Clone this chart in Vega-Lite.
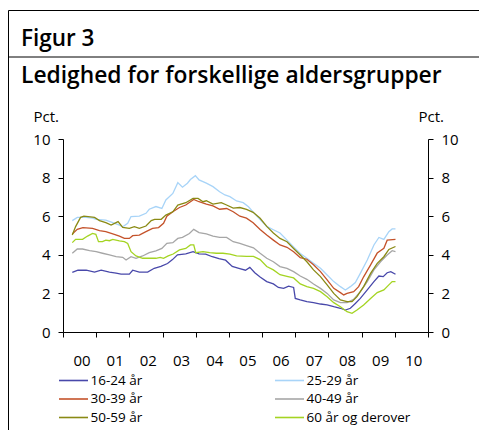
{
"$schema": "https://vega.github.io/schema/vega-lite/v6.json",
"width": 471, "height": 420,
"autosize": {"type": "none"},
"padding": {"left": 8, "top": 10, "right": 0, "bottom": 0},
"background": "#ffffff",
"title": {"text": "Figur 3", "subtitle": "Ledighed for forskellige aldersgrupper", "anchor": "start", "frame": "group", "orient": "top", "offset": -78, "dx": 13, "font": "Open Sans", "fontSize": 22.5, "fontWeight": 600, "color": "#000", "subtitleFont": "Open Sans", "subtitleFontSize": 22.8, "subtitleFontWeight": 600, "subtitleColor": "#000", "subtitlePadding": 15},
"data": {"values": [
{"g":"16-24 år","t":2000.28,"v":3.09},{"g":"16-24 år","t":2000.45,"v":3.2},{"g":"16-24 år","t":2000.7,"v":3.2},{"g":"16-24 år","t":2000.95,"v":3.1},{"g":"16-24 år","t":2001.15,"v":3.2},{"g":"16-24 år","t":2001.4,"v":3.1},{"g":"16-24 år","t":2001.6,"v":3.05},{"g":"16-24 år","t":2001.75,"v":3.0},{"g":"16-24 år","t":2002.0,"v":3.0},{"g":"16-24 år","t":2002.1,"v":3.2},{"g":"16-24 år","t":2002.3,"v":3.1},{"g":"16-24 år","t":2002.55,"v":3.1},{"g":"16-24 år","t":2002.75,"v":3.3},{"g":"16-24 år","t":2002.95,"v":3.4},{"g":"16-24 år","t":2003.15,"v":3.55},{"g":"16-24 år","t":2003.3,"v":3.75},{"g":"16-24 år","t":2003.45,"v":4.0},{"g":"16-24 år","t":2003.7,"v":4.05},{"g":"16-24 år","t":2003.92,"v":4.16},{"g":"16-24 år","t":2004.1,"v":4.05},{"g":"16-24 år","t":2004.3,"v":4.04},{"g":"16-24 år","t":2004.5,"v":3.9},{"g":"16-24 år","t":2004.7,"v":3.8},{"g":"16-24 år","t":2004.9,"v":3.72},{"g":"16-24 år","t":2005.1,"v":3.4},{"g":"16-24 år","t":2005.3,"v":3.3},{"g":"16-24 år","t":2005.5,"v":3.2},{"g":"16-24 år","t":2005.63,"v":3.35},{"g":"16-24 år","t":2005.78,"v":3.07},{"g":"16-24 år","t":2005.94,"v":2.85},{"g":"16-24 år","t":2006.14,"v":2.61},{"g":"16-24 år","t":2006.34,"v":2.49},{"g":"16-24 år","t":2006.49,"v":2.31},{"g":"16-24 år","t":2006.65,"v":2.26},{"g":"16-24 år","t":2006.8,"v":2.38},{"g":"16-24 år","t":2006.95,"v":2.31},{"g":"16-24 år","t":2007.0,"v":1.74},{"g":"16-24 år","t":2007.15,"v":1.66},{"g":"16-24 år","t":2007.35,"v":1.57},{"g":"16-24 år","t":2007.55,"v":1.52},{"g":"16-24 år","t":2007.76,"v":1.45},{"g":"16-24 år","t":2007.96,"v":1.4},{"g":"16-24 år","t":2008.16,"v":1.31},{"g":"16-24 år","t":2008.36,"v":1.23},{"g":"16-24 år","t":2008.51,"v":1.14},{"g":"16-24 år","t":2008.66,"v":1.23},{"g":"16-24 år","t":2008.81,"v":1.48},{"g":"16-24 år","t":2008.96,"v":1.74},{"g":"16-24 år","t":2009.17,"v":2.18},{"g":"16-24 år","t":2009.37,"v":2.61},{"g":"16-24 år","t":2009.52,"v":2.9},{"g":"16-24 år","t":2009.65,"v":2.87},{"g":"16-24 år","t":2009.77,"v":3.07},{"g":"16-24 år","t":2009.88,"v":3.13},{"g":"16-24 år","t":2010.02,"v":2.99},
{"g":"25-29 år","t":2000.28,"v":5.77},{"g":"25-29 år","t":2000.43,"v":5.94},{"g":"25-29 år","t":2000.7,"v":5.94},{"g":"25-29 år","t":2000.89,"v":5.9},{"g":"25-29 år","t":2001.0,"v":5.84},{"g":"25-29 år","t":2001.29,"v":5.8},{"g":"25-29 år","t":2001.5,"v":5.67},{"g":"25-29 år","t":2001.7,"v":5.54},{"g":"25-29 år","t":2001.8,"v":5.45},{"g":"25-29 år","t":2001.95,"v":5.63},{"g":"25-29 år","t":2002.05,"v":5.98},{"g":"25-29 år","t":2002.3,"v":6.0},{"g":"25-29 år","t":2002.5,"v":6.15},{"g":"25-29 år","t":2002.6,"v":6.36},{"g":"25-29 år","t":2002.8,"v":6.5},{"g":"25-29 år","t":2002.98,"v":6.4},{"g":"25-29 år","t":2003.1,"v":6.84},{"g":"25-29 år","t":2003.31,"v":7.18},{"g":"25-29 år","t":2003.46,"v":7.74},{"g":"25-29 år","t":2003.6,"v":7.5},{"g":"25-29 år","t":2003.75,"v":7.71},{"g":"25-29 år","t":2003.84,"v":7.9},{"g":"25-29 år","t":2003.99,"v":8.1},{"g":"25-29 år","t":2004.1,"v":7.88},{"g":"25-29 år","t":2004.32,"v":7.71},{"g":"25-29 år","t":2004.52,"v":7.53},{"g":"25-29 år","t":2004.72,"v":7.27},{"g":"25-29 år","t":2004.88,"v":7.1},{"g":"25-29 år","t":2005.03,"v":7.01},{"g":"25-29 år","t":2005.23,"v":6.79},{"g":"25-29 år","t":2005.43,"v":6.7},{"g":"25-29 år","t":2005.59,"v":6.49},{"g":"25-29 år","t":2005.74,"v":6.2},{"g":"25-29 år","t":2005.94,"v":5.83},{"g":"25-29 år","t":2006.14,"v":5.47},{"g":"25-29 år","t":2006.34,"v":5.3},{"g":"25-29 år","t":2006.54,"v":5.13},{"g":"25-29 år","t":2006.75,"v":4.76},{"g":"25-29 år","t":2006.95,"v":4.41},{"g":"25-29 år","t":2007.15,"v":4.07},{"g":"25-29 år","t":2007.35,"v":3.82},{"g":"25-29 år","t":2007.55,"v":3.56},{"g":"25-29 år","t":2007.76,"v":3.3},{"g":"25-29 år","t":2007.96,"v":2.95},{"g":"25-29 år","t":2008.16,"v":2.61},{"g":"25-29 år","t":2008.36,"v":2.35},{"g":"25-29 år","t":2008.51,"v":2.18},{"g":"25-29 år","t":2008.66,"v":2.35},{"g":"25-29 år","t":2008.81,"v":2.56},{"g":"25-29 år","t":2008.96,"v":3.04},{"g":"25-29 år","t":2009.17,"v":3.73},{"g":"25-29 år","t":2009.37,"v":4.51},{"g":"25-29 år","t":2009.52,"v":4.9},{"g":"25-29 år","t":2009.67,"v":4.8},{"g":"25-29 år","t":2009.82,"v":5.2},{"g":"25-29 år","t":2009.92,"v":5.34},{"g":"25-29 år","t":2010.02,"v":5.34},
{"g":"30-39 år","t":2000.28,"v":5.08},{"g":"30-39 år","t":2000.43,"v":5.32},{"g":"30-39 år","t":2000.6,"v":5.41},{"g":"30-39 år","t":2000.89,"v":5.37},{"g":"30-39 år","t":2001.1,"v":5.25},{"g":"30-39 år","t":2001.29,"v":5.2},{"g":"30-39 år","t":2001.5,"v":5.08},{"g":"30-39 år","t":2001.7,"v":4.97},{"g":"30-39 år","t":2001.85,"v":4.85},{"g":"30-39 år","t":2002.0,"v":4.85},{"g":"30-39 år","t":2002.1,"v":4.99},{"g":"30-39 år","t":2002.3,"v":5.02},{"g":"30-39 år","t":2002.5,"v":5.2},{"g":"30-39 år","t":2002.7,"v":5.37},{"g":"30-39 år","t":2002.88,"v":5.41},{"g":"30-39 år","t":2003.03,"v":5.63},{"g":"30-39 år","t":2003.13,"v":6.0},{"g":"30-39 år","t":2003.31,"v":6.23},{"g":"30-39 år","t":2003.51,"v":6.45},{"g":"30-39 år","t":2003.7,"v":6.58},{"g":"30-39 år","t":2003.94,"v":6.87},{"g":"30-39 år","t":2004.1,"v":6.75},{"g":"30-39 år","t":2004.32,"v":6.63},{"g":"30-39 år","t":2004.52,"v":6.53},{"g":"30-39 år","t":2004.72,"v":6.36},{"g":"30-39 år","t":2004.93,"v":6.4},{"g":"30-39 år","t":2005.13,"v":6.23},{"g":"30-39 år","t":2005.33,"v":6.0},{"g":"30-39 år","t":2005.53,"v":5.9},{"g":"30-39 år","t":2005.73,"v":5.66},{"g":"30-39 år","t":2005.94,"v":5.31},{"g":"30-39 år","t":2006.14,"v":5.02},{"g":"30-39 år","t":2006.34,"v":4.76},{"g":"30-39 år","t":2006.54,"v":4.51},{"g":"30-39 år","t":2006.75,"v":4.39},{"g":"30-39 år","t":2006.95,"v":4.16},{"g":"30-39 år","t":2007.15,"v":3.85},{"g":"30-39 år","t":2007.35,"v":3.77},{"g":"30-39 år","t":2007.55,"v":3.48},{"g":"30-39 år","t":2007.76,"v":3.13},{"g":"30-39 år","t":2007.96,"v":2.7},{"g":"30-39 år","t":2008.16,"v":2.26},{"g":"30-39 år","t":2008.36,"v":2.04},{"g":"30-39 år","t":2008.46,"v":1.92},{"g":"30-39 år","t":2008.56,"v":2.0},{"g":"30-39 år","t":2008.76,"v":2.09},{"g":"30-39 år","t":2008.91,"v":2.35},{"g":"30-39 år","t":2009.06,"v":2.86},{"g":"30-39 år","t":2009.27,"v":3.48},{"g":"30-39 år","t":2009.47,"v":4.09},{"g":"30-39 år","t":2009.67,"v":4.34},{"g":"30-39 år","t":2009.77,"v":4.76},{"g":"30-39 år","t":2010.02,"v":4.8},
{"g":"40-49 år","t":2000.28,"v":4.08},{"g":"40-49 år","t":2000.43,"v":4.3},{"g":"40-49 år","t":2000.59,"v":4.3},{"g":"40-49 år","t":2000.8,"v":4.22},{"g":"40-49 år","t":2001.0,"v":4.16},{"g":"40-49 år","t":2001.19,"v":4.08},{"g":"40-49 år","t":2001.4,"v":3.99},{"g":"40-49 år","t":2001.6,"v":3.9},{"g":"40-49 år","t":2001.8,"v":3.87},{"g":"40-49 år","t":2001.9,"v":3.73},{"g":"40-49 år","t":2002.05,"v":3.9},{"g":"40-49 år","t":2002.2,"v":3.82},{"g":"40-49 år","t":2002.4,"v":3.94},{"g":"40-49 år","t":2002.6,"v":4.11},{"g":"40-49 år","t":2002.8,"v":4.2},{"g":"40-49 år","t":2002.98,"v":4.33},{"g":"40-49 år","t":2003.13,"v":4.59},{"g":"40-49 år","t":2003.31,"v":4.63},{"g":"40-49 år","t":2003.46,"v":4.85},{"g":"40-49 år","t":2003.6,"v":4.9},{"g":"40-49 år","t":2003.81,"v":5.1},{"g":"40-49 år","t":2003.94,"v":5.32},{"g":"40-49 år","t":2004.1,"v":5.15},{"g":"40-49 år","t":2004.32,"v":5.08},{"g":"40-49 år","t":2004.52,"v":4.97},{"g":"40-49 år","t":2004.72,"v":4.9},{"g":"40-49 år","t":2004.93,"v":4.9},{"g":"40-49 år","t":2005.13,"v":4.68},{"g":"40-49 år","t":2005.33,"v":4.59},{"g":"40-49 år","t":2005.53,"v":4.48},{"g":"40-49 år","t":2005.74,"v":4.36},{"g":"40-49 år","t":2005.94,"v":4.08},{"g":"40-49 år","t":2006.14,"v":3.82},{"g":"40-49 år","t":2006.34,"v":3.64},{"g":"40-49 år","t":2006.54,"v":3.39},{"g":"40-49 år","t":2006.75,"v":3.3},{"g":"40-49 år","t":2006.95,"v":3.13},{"g":"40-49 år","t":2007.15,"v":2.9},{"g":"40-49 år","t":2007.35,"v":2.73},{"g":"40-49 år","t":2007.55,"v":2.49},{"g":"40-49 år","t":2007.76,"v":2.26},{"g":"40-49 år","t":2007.96,"v":2.0},{"g":"40-49 år","t":2008.16,"v":1.66},{"g":"40-49 år","t":2008.36,"v":1.52},{"g":"40-49 år","t":2008.56,"v":1.52},{"g":"40-49 år","t":2008.76,"v":1.69},{"g":"40-49 år","t":2008.96,"v":2.09},{"g":"40-49 år","t":2009.17,"v":2.61},{"g":"40-49 år","t":2009.37,"v":3.22},{"g":"40-49 år","t":2009.57,"v":3.64},{"g":"40-49 år","t":2009.77,"v":3.99},{"g":"40-49 år","t":2009.92,"v":4.21},{"g":"40-49 år","t":2010.02,"v":4.16},
{"g":"50-59 år","t":2000.28,"v":5.03},{"g":"50-59 år","t":2000.38,"v":5.46},{"g":"50-59 år","t":2000.53,"v":5.94},{"g":"50-59 år","t":2000.63,"v":6.0},{"g":"50-59 år","t":2000.95,"v":5.94},{"g":"50-59 år","t":2001.1,"v":5.77},{"g":"50-59 år","t":2001.29,"v":5.67},{"g":"50-59 år","t":2001.45,"v":5.54},{"g":"50-59 år","t":2001.6,"v":5.67},{"g":"50-59 år","t":2001.66,"v":5.72},{"g":"50-59 år","t":2001.8,"v":5.42},{"g":"50-59 år","t":2002.0,"v":5.37},{"g":"50-59 år","t":2002.15,"v":5.46},{"g":"50-59 år","t":2002.3,"v":5.37},{"g":"50-59 år","t":2002.5,"v":5.49},{"g":"50-59 år","t":2002.66,"v":5.77},{"g":"50-59 år","t":2002.76,"v":5.84},{"g":"50-59 år","t":2002.96,"v":5.84},{"g":"50-59 år","t":2003.1,"v":6.06},{"g":"50-59 år","t":2003.31,"v":6.23},{"g":"50-59 år","t":2003.46,"v":6.58},{"g":"50-59 år","t":2003.7,"v":6.7},{"g":"50-59 år","t":2003.92,"v":6.92},{"g":"50-59 år","t":2004.07,"v":6.92},{"g":"50-59 år","t":2004.22,"v":6.75},{"g":"50-59 år","t":2004.32,"v":6.8},{"g":"50-59 år","t":2004.52,"v":6.63},{"g":"50-59 år","t":2004.77,"v":6.7},{"g":"50-59 år","t":2004.93,"v":6.58},{"g":"50-59 år","t":2005.13,"v":6.42},{"g":"50-59 år","t":2005.33,"v":6.45},{"g":"50-59 år","t":2005.53,"v":6.35},{"g":"50-59 år","t":2005.73,"v":6.2},{"g":"50-59 år","t":2005.94,"v":5.89},{"g":"50-59 år","t":2006.14,"v":5.47},{"g":"50-59 år","t":2006.34,"v":5.13},{"g":"50-59 år","t":2006.54,"v":4.85},{"g":"50-59 år","t":2006.75,"v":4.68},{"g":"50-59 år","t":2006.95,"v":4.33},{"g":"50-59 år","t":2007.15,"v":3.99},{"g":"50-59 år","t":2007.35,"v":3.64},{"g":"50-59 år","t":2007.55,"v":3.22},{"g":"50-59 år","t":2007.76,"v":2.87},{"g":"50-59 år","t":2007.96,"v":2.44},{"g":"50-59 år","t":2008.16,"v":2.0},{"g":"50-59 år","t":2008.36,"v":1.66},{"g":"50-59 år","t":2008.56,"v":1.57},{"g":"50-59 år","t":2008.71,"v":1.57},{"g":"50-59 år","t":2008.86,"v":1.83},{"g":"50-59 år","t":2009.06,"v":2.35},{"g":"50-59 år","t":2009.27,"v":3.04},{"g":"50-59 år","t":2009.47,"v":3.56},{"g":"50-59 år","t":2009.67,"v":3.9},{"g":"50-59 år","t":2009.82,"v":4.28},{"g":"50-59 år","t":2010.02,"v":4.43},
{"g":"60 år og derover","t":2000.28,"v":4.63},{"g":"60 år og derover","t":2000.38,"v":4.8},{"g":"60 år og derover","t":2000.59,"v":4.8},{"g":"60 år og derover","t":2000.74,"v":4.97},{"g":"60 år og derover","t":2000.89,"v":5.11},{"g":"60 år og derover","t":2000.99,"v":5.06},{"g":"60 år og derover","t":2001.07,"v":4.68},{"g":"60 år og derover","t":2001.19,"v":4.68},{"g":"60 år og derover","t":2001.29,"v":4.76},{"g":"60 år og derover","t":2001.4,"v":4.73},{"g":"60 år og derover","t":2001.5,"v":4.8},{"g":"60 år og derover","t":2001.7,"v":4.72},{"g":"60 år og derover","t":2001.85,"v":4.68},{"g":"60 år og derover","t":2001.95,"v":4.59},{"g":"60 år og derover","t":2002.05,"v":4.16},{"g":"60 år og derover","t":2002.2,"v":3.94},{"g":"60 år og derover","t":2002.4,"v":3.82},{"g":"60 år og derover","t":2002.6,"v":3.82},{"g":"60 år og derover","t":2002.8,"v":3.82},{"g":"60 år og derover","t":2002.93,"v":3.87},{"g":"60 år og derover","t":2003.03,"v":3.82},{"g":"60 år og derover","t":2003.17,"v":3.94},{"g":"60 år og derover","t":2003.32,"v":4.04},{"g":"60 år og derover","t":2003.51,"v":4.25},{"g":"60 år og derover","t":2003.7,"v":4.33},{"g":"60 år og derover","t":2003.84,"v":4.51},{"g":"60 år og derover","t":2003.94,"v":4.51},{"g":"60 år og derover","t":2004.0,"v":4.11},{"g":"60 år og derover","t":2004.22,"v":4.16},{"g":"60 år og derover","t":2004.42,"v":4.11},{"g":"60 år og derover","t":2004.62,"v":4.08},{"g":"60 år og derover","t":2004.82,"v":4.08},{"g":"60 år og derover","t":2005.03,"v":4.04},{"g":"60 år og derover","t":2005.23,"v":3.94},{"g":"60 år og derover","t":2005.53,"v":3.92},{"g":"60 år og derover","t":2005.74,"v":3.92},{"g":"60 år og derover","t":2005.94,"v":3.75},{"g":"60 år og derover","t":2006.14,"v":3.39},{"g":"60 år og derover","t":2006.34,"v":3.22},{"g":"60 år og derover","t":2006.54,"v":2.97},{"g":"60 år og derover","t":2006.75,"v":2.88},{"g":"60 år og derover","t":2006.95,"v":2.8},{"g":"60 år og derover","t":2007.15,"v":2.49},{"g":"60 år og derover","t":2007.35,"v":2.35},{"g":"60 år og derover","t":2007.55,"v":2.26},{"g":"60 år og derover","t":2007.76,"v":2.09},{"g":"60 år og derover","t":2007.96,"v":1.83},{"g":"60 år og derover","t":2008.16,"v":1.52},{"g":"60 år og derover","t":2008.36,"v":1.31},{"g":"60 år og derover","t":2008.56,"v":1.05},{"g":"60 år og derover","t":2008.71,"v":0.97},{"g":"60 år og derover","t":2008.86,"v":1.14},{"g":"60 år og derover","t":2009.06,"v":1.4},{"g":"60 år og derover","t":2009.27,"v":1.74},{"g":"60 år og derover","t":2009.47,"v":2.04},{"g":"60 år og derover","t":2009.67,"v":2.18},{"g":"60 år og derover","t":2009.82,"v":2.44},{"g":"60 år og derover","t":2009.92,"v":2.61},{"g":"60 år og derover","t":2010.02,"v":2.61}
]},
"layer": [
{"mark": {"type": "line", "strokeWidth": 1.3, "clip": false},
 "encoding": {
  "x": {"field": "t", "type": "quantitative", "scale": {"domain": [2000, 2011], "range": [55, 420], "nice": false, "zero": false},
   "axis": {"orient": "bottom", "offset": -98, "values": [2000,2001,2002,2003,2004,2005,2006,2007,2008,2009,2010,2011], "format": "d", "labelExpr": "datum.value < 2011 ? slice(datum.label, 2) : ''", "labelOffset": 18.5, "labelPadding": 16, "labelFlush": false, "labelOverlap": false, "labelBound": false, "title": null}},
  "y": {"field": "v", "type": "quantitative", "scale": {"domain": [0, 10], "range": [322, 129], "nice": false, "zero": true},
   "axis": {"orient": "left", "offset": -55, "values": [0,2,4,6,8,10], "labelPadding": 8, "title": "Pct.", "titleAngle": 0, "titleAlign": "left", "titleBaseline": "alphabetic", "titleX": -30, "titleY": 111}},
  "color": {"field": "g", "type": "nominal",
   "scale": {"domain": ["16-24 år","30-39 år","50-59 år","25-29 år","40-49 år","60 år og derover"], "range": ["#4848aa","#c4522a","#8a8a14","#a8d4f8","#a6a6a6","#a4d422"]},
   "legend": {"title": null, "orient": "none", "legendX": 57, "legendY": 362, "columns": 2, "columnPadding": 128, "rowPadding": 3.5, "padding": 0, "symbolType": "M-2,0L2,0", "symbolSize": 210, "symbolStrokeWidth": 1.6, "labelFontSize": 13.5, "labelOffset": 8.5, "labelColor": "#000", "labelFont": "Open Sans"}}
 }},
{"data": {"values": [{}]},
 "mark": {"type": "rule", "color": "#000", "strokeWidth": 1},
 "encoding": {
  "y": {"datum": 14.2487, "type": "quantitative", "scale": {"domain": [0, 10], "range": [322, 129], "nice": false, "zero": true},
   "axis": {"orient": "right", "offset": -51, "values": [0,2,4,6,8,10], "labelPadding": 8, "title": "Pct.", "titleAngle": 0, "titleAlign": "left", "titleBaseline": "alphabetic", "titleX": -10, "titleY": 111}}
 }}
],
"resolve": {"axis": {"y": "independent"}},
"config": {
 "view": {"stroke": "#000", "strokeWidth": 1},
 "font": "Open Sans",
 "axis": {"domainColor": "#000", "tickColor": "#000", "labelColor": "#000", "titleColor": "#000", "grid": false, "labelFontSize": 15, "titleFontSize": 15, "titleFontWeight": "normal", "tickSize": 5, "labelFont": "Open Sans", "titleFont": "Open Sans", "domainWidth": 1, "tickWidth": 1}
}
}
